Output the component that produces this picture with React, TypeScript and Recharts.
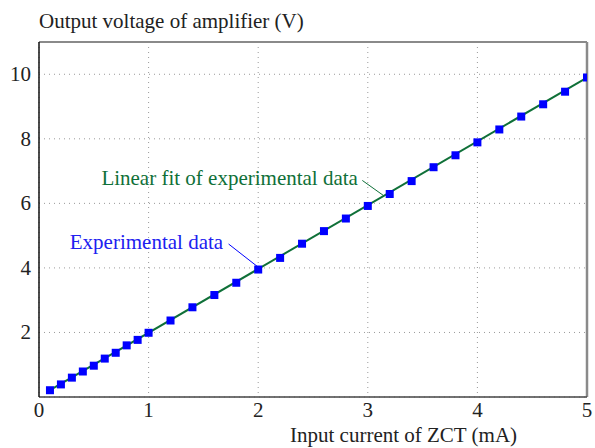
import React from "react";
import {
  ComposedChart,
  Line,
  Scatter,
  XAxis,
  YAxis,
  CartesianGrid,
  ReferenceLine,
  ReferenceDot,
} from "recharts";

// Input current of ZCT (mA)
const currentMA = [
  0.1, 0.2, 0.3, 0.4, 0.5, 0.6, 0.7, 0.8, 0.9, 1.0, 1.2, 1.4, 1.6, 1.8, 2.0,
  2.2, 2.4, 2.6, 2.8, 3.0, 3.2, 3.4, 3.6, 3.8, 4.0, 4.2, 4.4, 4.6, 4.8, 5.0,
];
// Measured amplifier output (V)
const outputV = [
  0.21, 0.39, 0.6, 0.79, 0.97, 1.19, 1.37, 1.6, 1.77, 1.99, 2.37, 2.78, 3.16,
  3.54, 3.95, 4.31, 4.75, 5.14, 5.53, 5.92, 6.29, 6.69, 7.12, 7.49, 7.89, 8.29,
  8.69, 9.07, 9.46, 9.9,
];
// Linear fit endpoints
const fitCurrent = [0.1, 5.0];
const fitOutput = [0.21, 9.9];

const xTicks = [0, 1, 2, 3, 4, 5];
const yTicks = [2, 4, 6, 8, 10];

const measured = currentMA.map((x, i) => ({ x, v: outputV[i] }));
const fitted = fitCurrent.map((x, i) => ({ x, v: fitOutput[i] }));

const FONT = "'Liberation Serif', 'Times New Roman', serif";
const GREEN = "#0f7038";
const BLUE = "#0000ff";

const SquareMarker = (p: any) => (
  <rect x={p.cx - 4} y={p.cy - 4} width={8} height={8} fill={BLUE} />
);

const XTick = (p: any) => (
  <text x={p.x} y={417} textAnchor="middle" fontFamily={FONT} fontSize={21} fill="#222">
    {p.payload.value}
  </text>
);

const YTick = (p: any) => (
  <text x={31} y={p.y + 7} textAnchor="end" fontFamily={FONT} fontSize={21} fill="#222">
    {p.payload.value}
  </text>
);

const note = (text: string, color: string) => (p: any) => (
  <text x={p.cx} y={p.cy} textAnchor="end" fontFamily={FONT} fontSize={21} fill={color}>
    {text}
  </text>
);

export default function App() {
  return (
    <div style={{ position: "absolute", left: 0, top: 0, background: "#fff" }}>
      <ComposedChart
        width={595}
        height={448}
        margin={{ top: 42, right: 8, bottom: 0, left: 0 }}
      >
        <CartesianGrid stroke="#9a9a9a" strokeDasharray="1 4" strokeWidth={1} />
        <XAxis
          type="number"
          dataKey="x"
          domain={[0, 5]}
          ticks={xTicks}
          height={51}
          tickLine={false}
          axisLine={{ stroke: "#444", strokeWidth: 1.5 }}
          tick={XTick}
          allowDataOverflow
          label={{
            content: () => (
              <text x={290} y={442} fontFamily={FONT} fontSize={21} fill="#222">
                Input current of ZCT (mA)
              </text>
            ),
          }}
        />
        <YAxis
          type="number"
          domain={[0, 11]}
          ticks={yTicks}
          width={39}
          tickLine={false}
          axisLine={{ stroke: "#111", strokeWidth: 1.5 }}
          tick={YTick}
          allowDataOverflow
          label={{
            content: () => (
              <text x={39} y={28} fontFamily={FONT} fontSize={21} fill="#222">
                Output voltage of amplifier (V)
              </text>
            ),
          }}
        />
        <ReferenceLine y={11} stroke="#8a8a8a" strokeWidth={2} />
        <ReferenceLine x={5} stroke="#8a8a8a" strokeWidth={2.5} />
        <Line
          data={fitted}
          dataKey="v"
          stroke={GREEN}
          strokeWidth={2}
          dot={false}
          isAnimationActive={false}
        />
        <Scatter
          data={measured}
          dataKey="v"
          shape={SquareMarker}
          isAnimationActive={false}
        />
        <ReferenceLine
          segment={[
            { x: 2.95, y: 6.71 },
            { x: 3.14, y: 6.25 },
          ]}
          stroke={GREEN}
          strokeWidth={1}
        />
        <ReferenceLine
          segment={[
            { x: 1.73, y: 4.74 },
            { x: 1.99, y: 4.05 },
          ]}
          stroke={BLUE}
          strokeWidth={1}
        />
        <ReferenceDot
          x={2.91}
          y={6.56}
          shape={note("Linear fit of experimental data", GREEN)}
        />
        <ReferenceDot
          x={1.68}
          y={4.58}
          shape={note("Experimental data", "#2020f0")}
        />
      </ComposedChart>
    </div>
  );
}
